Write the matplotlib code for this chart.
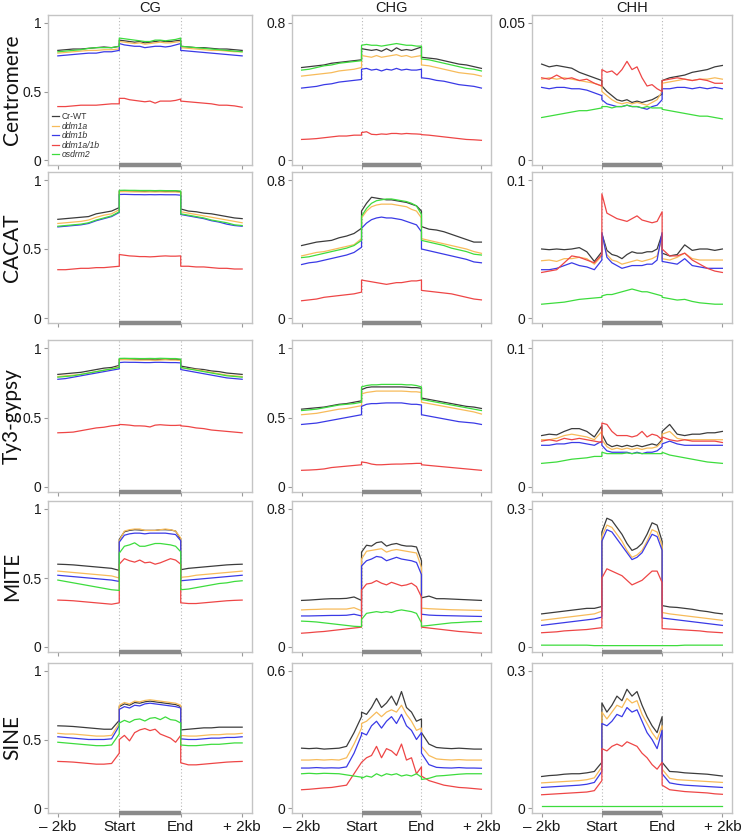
import numpy as np
import matplotlib
matplotlib.use("Agg")
import matplotlib.pyplot as plt

# ---------------- data ----------------
series_names = ["Cr-WT", "ddm1a", "ddm1b", "ddm1a/1b", "osdrm2"]
series_colors = ["#3c3c3c", "#f7bb5a", "#3a3ae6", "#ee4646", "#3ddc3d"]
contexts = ["CG", "CHG", "CHH"]
elements = ["Centromere", "CACAT", "Ty3-gypsy", "MITE", "SINE"]
xtick_labels = ["\u2013 2kb", "Start", "End", "+ 2kb"]
yticks = [
    [[0, 0.5, 1], [0, 0.8], [0, 0.05]],
    [[0, 0.5, 1], [0, 0.8], [0, 0.1]],
    [[0, 0.5, 1], [0, 0.5, 1], [0, 0.1]],
    [[0, 0.5, 1], [0, 0.8], [0, 0.3]],
    [[0, 0.5, 1], [0, 0.6], [0, 0.3]],
]

# each series: (upstream 9 pts, body 13 pts, downstream 9 pts)
cen_cg = {
    "Cr-WT": ([0.80,0.805,0.81,0.81,0.815,0.82,0.825,0.82,0.83],
              [0.875,0.87,0.865,0.86,0.865,0.855,0.86,0.865,0.87,0.865,0.865,0.87,0.875],
              [0.83,0.825,0.82,0.82,0.815,0.81,0.81,0.805,0.80]),
    "ddm1a": ([0.78,0.785,0.79,0.795,0.80,0.80,0.805,0.805,0.81],
              [0.865,0.86,0.855,0.85,0.855,0.845,0.85,0.855,0.86,0.855,0.855,0.86,0.865],
              [0.82,0.815,0.81,0.805,0.80,0.80,0.795,0.79,0.79]),
    "ddm1b": ([0.76,0.765,0.77,0.775,0.78,0.78,0.79,0.79,0.80],
              [0.85,0.84,0.835,0.83,0.83,0.82,0.825,0.83,0.83,0.825,0.83,0.84,0.85],
              [0.80,0.795,0.79,0.785,0.78,0.775,0.77,0.765,0.76]),
    "ddm1a/1b": ([0.39,0.39,0.395,0.40,0.40,0.40,0.405,0.41,0.41],
                 [0.45,0.45,0.44,0.435,0.43,0.425,0.43,0.415,0.43,0.43,0.43,0.435,0.445],
                 [0.43,0.425,0.42,0.415,0.41,0.40,0.40,0.395,0.385]),
    "osdrm2": ([0.79,0.795,0.80,0.805,0.815,0.82,0.82,0.82,0.83],
               [0.89,0.885,0.88,0.875,0.87,0.865,0.865,0.875,0.875,0.87,0.875,0.88,0.89],
               [0.83,0.825,0.82,0.815,0.81,0.805,0.80,0.795,0.79]),
}
cen_chg = {
    "Cr-WT": ([0.54,0.545,0.55,0.555,0.565,0.57,0.575,0.58,0.585],
              [0.65,0.645,0.64,0.645,0.635,0.65,0.635,0.655,0.64,0.645,0.64,0.65,0.66],
              [0.60,0.595,0.59,0.58,0.57,0.56,0.555,0.545,0.535]),
    "ddm1a": ([0.49,0.495,0.50,0.505,0.51,0.52,0.525,0.53,0.54],
              [0.61,0.605,0.60,0.61,0.60,0.605,0.61,0.615,0.605,0.61,0.60,0.605,0.61],
              [0.555,0.55,0.54,0.53,0.52,0.51,0.505,0.50,0.49]),
    "ddm1b": ([0.42,0.425,0.43,0.44,0.445,0.455,0.46,0.465,0.47],
              [0.53,0.535,0.525,0.53,0.52,0.53,0.525,0.535,0.525,0.53,0.525,0.525,0.53],
              [0.48,0.475,0.465,0.46,0.45,0.44,0.435,0.43,0.42]),
    "ddm1a/1b": ([0.12,0.122,0.125,0.13,0.135,0.14,0.14,0.145,0.145],
                 [0.16,0.165,0.15,0.148,0.152,0.15,0.155,0.155,0.152,0.155,0.153,0.152,0.15],
                 [0.148,0.145,0.14,0.135,0.13,0.125,0.12,0.118,0.115]),
    "osdrm2": ([0.525,0.53,0.54,0.55,0.555,0.565,0.57,0.575,0.58],
               [0.67,0.675,0.67,0.67,0.665,0.67,0.675,0.68,0.675,0.67,0.67,0.665,0.665],
               [0.59,0.585,0.575,0.565,0.555,0.545,0.535,0.53,0.52]),
}
cen_chh = {
    "Cr-WT": ([0.035,0.034,0.0345,0.034,0.0335,0.032,0.031,0.030,0.029],
              [0.027,0.025,0.0235,0.022,0.0215,0.022,0.021,0.0215,0.021,0.0215,0.022,0.023,0.024],
              [0.029,0.030,0.0305,0.031,0.032,0.0325,0.033,0.034,0.0345]),
    "ddm1a": ([0.0295,0.030,0.0295,0.030,0.0295,0.029,0.0285,0.028,0.027],
              [0.025,0.0235,0.022,0.021,0.0205,0.021,0.0205,0.021,0.0205,0.020,0.021,0.022,0.025],
              [0.028,0.0285,0.029,0.0295,0.029,0.0295,0.0295,0.030,0.0295]),
    "ddm1b": ([0.0265,0.026,0.0265,0.0265,0.026,0.026,0.0255,0.0245,0.0235],
              [0.022,0.0205,0.020,0.0195,0.0195,0.020,0.0195,0.0195,0.019,0.0185,0.0195,0.020,0.022],
              [0.026,0.026,0.0265,0.0265,0.026,0.0265,0.026,0.0265,0.026]),
    "ddm1a/1b": ([0.030,0.0295,0.031,0.0295,0.030,0.029,0.0295,0.028,0.027],
                 [0.033,0.032,0.0325,0.031,0.033,0.036,0.033,0.034,0.030,0.027,0.0275,0.026,0.025],
                 [0.029,0.0295,0.030,0.0295,0.029,0.0295,0.029,0.028,0.028]),
    "osdrm2": ([0.0155,0.016,0.0165,0.017,0.0175,0.018,0.018,0.0185,0.019],
               [0.0195,0.0195,0.019,0.0195,0.0195,0.020,0.0195,0.0195,0.019,0.0195,0.019,0.019,0.019],
               [0.0185,0.018,0.0175,0.017,0.0165,0.016,0.016,0.0155,0.015]),
}
cacat_cg = {
    "Cr-WT": ([0.715,0.72,0.725,0.73,0.735,0.755,0.765,0.775,0.80],
              [0.92,0.921,0.92,0.919,0.918,0.918,0.919,0.918,0.918,0.917,0.918,0.918,0.915],
              [0.79,0.775,0.77,0.76,0.755,0.745,0.735,0.725,0.72]),
    "ddm1a": ([0.685,0.69,0.695,0.70,0.71,0.73,0.745,0.755,0.785],
              [0.915,0.916,0.915,0.914,0.914,0.913,0.914,0.913,0.914,0.913,0.913,0.913,0.91],
              [0.77,0.76,0.75,0.74,0.73,0.72,0.71,0.70,0.69]),
    "ddm1b": ([0.66,0.665,0.67,0.675,0.685,0.705,0.72,0.735,0.765],
              [0.895,0.896,0.895,0.894,0.894,0.893,0.894,0.893,0.894,0.893,0.893,0.893,0.89],
              [0.75,0.74,0.73,0.72,0.705,0.695,0.68,0.67,0.665]),
    "ddm1a/1b": ([0.35,0.35,0.355,0.36,0.36,0.365,0.365,0.37,0.375],
                 [0.46,0.455,0.45,0.448,0.445,0.445,0.443,0.445,0.448,0.45,0.448,0.448,0.45],
                 [0.375,0.375,0.37,0.37,0.365,0.36,0.36,0.355,0.355]),
    "osdrm2": ([0.665,0.67,0.675,0.68,0.69,0.71,0.725,0.74,0.77],
               [0.925,0.926,0.925,0.925,0.924,0.924,0.924,0.923,0.924,0.923,0.923,0.923,0.92],
               [0.755,0.745,0.735,0.725,0.71,0.70,0.69,0.675,0.67]),
}
cacat_chg = {
    "Cr-WT": ([0.42,0.43,0.44,0.445,0.45,0.465,0.475,0.49,0.52],
              [0.62,0.665,0.70,0.695,0.69,0.685,0.685,0.68,0.675,0.67,0.66,0.65,0.62],
              [0.53,0.515,0.51,0.50,0.485,0.47,0.455,0.44,0.44]),
    "ddm1a": ([0.36,0.37,0.38,0.385,0.395,0.405,0.415,0.425,0.46],
              [0.58,0.62,0.645,0.655,0.66,0.66,0.66,0.655,0.65,0.645,0.63,0.62,0.58],
              [0.46,0.45,0.44,0.43,0.42,0.41,0.40,0.385,0.375]),
    "ddm1b": ([0.31,0.32,0.325,0.335,0.345,0.355,0.365,0.38,0.41],
              [0.52,0.55,0.57,0.58,0.585,0.58,0.58,0.575,0.57,0.56,0.55,0.54,0.50],
              [0.40,0.39,0.38,0.37,0.36,0.35,0.34,0.325,0.32]),
    "ddm1a/1b": ([0.10,0.105,0.11,0.12,0.125,0.13,0.135,0.14,0.15],
                 [0.22,0.215,0.21,0.205,0.20,0.195,0.20,0.205,0.205,0.21,0.215,0.215,0.22],
                 [0.16,0.155,0.15,0.145,0.14,0.13,0.12,0.11,0.105]),
    "osdrm2": ([0.35,0.355,0.365,0.375,0.385,0.395,0.405,0.42,0.45],
               [0.59,0.635,0.665,0.68,0.685,0.69,0.69,0.685,0.68,0.675,0.665,0.65,0.60],
               [0.45,0.44,0.43,0.42,0.405,0.395,0.385,0.37,0.365]),
}
cacat_chh = {
    "Cr-WT": ([0.050,0.0495,0.050,0.0495,0.050,0.051,0.048,0.041,0.048],
              [0.061,0.049,0.046,0.045,0.043,0.046,0.048,0.047,0.047,0.048,0.048,0.050,0.061],
              [0.047,0.045,0.046,0.053,0.049,0.050,0.050,0.049,0.050]),
    "ddm1a": ([0.0415,0.042,0.041,0.043,0.043,0.044,0.043,0.039,0.045],
              [0.060,0.046,0.042,0.041,0.039,0.040,0.041,0.042,0.041,0.042,0.043,0.045,0.058],
              [0.043,0.042,0.044,0.047,0.043,0.042,0.042,0.042,0.042]),
    "ddm1b": ([0.035,0.035,0.036,0.038,0.040,0.038,0.037,0.035,0.042],
              [0.062,0.044,0.040,0.038,0.036,0.037,0.038,0.038,0.038,0.039,0.039,0.042,0.062],
              [0.041,0.040,0.039,0.043,0.038,0.037,0.036,0.036,0.036]),
    "ddm1a/1b": ([0.033,0.034,0.035,0.040,0.045,0.044,0.042,0.040,0.046],
                 [0.090,0.076,0.074,0.072,0.071,0.070,0.072,0.074,0.071,0.070,0.069,0.070,0.077],
                 [0.050,0.045,0.045,0.047,0.042,0.039,0.036,0.034,0.033]),
    "osdrm2": ([0.010,0.0105,0.011,0.0115,0.0125,0.0135,0.014,0.0145,0.015],
               [0.016,0.017,0.017,0.018,0.019,0.020,0.021,0.020,0.019,0.019,0.018,0.017,0.016],
               [0.015,0.014,0.013,0.0135,0.012,0.011,0.0105,0.010,0.010]),
}
ty3_cg = {
    "Cr-WT": ([0.81,0.815,0.82,0.825,0.835,0.845,0.855,0.86,0.875],
              [0.92,0.921,0.92,0.918,0.918,0.918,0.918,0.915,0.918,0.92,0.918,0.918,0.915],
              [0.87,0.86,0.85,0.845,0.835,0.83,0.82,0.815,0.81]),
    "ddm1a": ([0.795,0.80,0.805,0.81,0.82,0.83,0.84,0.85,0.865],
              [0.915,0.916,0.915,0.914,0.913,0.913,0.913,0.912,0.913,0.915,0.913,0.913,0.91],
              [0.86,0.85,0.845,0.835,0.825,0.815,0.805,0.80,0.795]),
    "ddm1b": ([0.775,0.78,0.79,0.80,0.81,0.82,0.83,0.84,0.85],
              [0.895,0.898,0.897,0.897,0.896,0.895,0.895,0.897,0.897,0.896,0.895,0.895,0.893],
              [0.845,0.835,0.825,0.815,0.805,0.795,0.785,0.78,0.775]),
    "ddm1a/1b": ([0.39,0.392,0.395,0.405,0.415,0.425,0.43,0.44,0.445],
                 [0.45,0.448,0.445,0.44,0.44,0.438,0.432,0.445,0.448,0.445,0.443,0.443,0.445],
                 [0.44,0.435,0.425,0.42,0.41,0.405,0.40,0.395,0.39]),
    "osdrm2": ([0.79,0.795,0.80,0.81,0.82,0.83,0.84,0.85,0.86],
               [0.925,0.926,0.925,0.925,0.924,0.924,0.925,0.924,0.926,0.925,0.924,0.924,0.92],
               [0.86,0.85,0.84,0.83,0.82,0.81,0.80,0.795,0.79]),
}
ty3_chg = {
    "Cr-WT": ([0.56,0.565,0.57,0.575,0.585,0.595,0.60,0.61,0.62],
              [0.70,0.715,0.72,0.72,0.72,0.72,0.72,0.72,0.72,0.718,0.715,0.715,0.71],
              [0.64,0.63,0.62,0.61,0.60,0.59,0.58,0.575,0.565]),
    "ddm1a": ([0.52,0.525,0.53,0.54,0.55,0.56,0.565,0.575,0.585],
              [0.67,0.68,0.685,0.69,0.69,0.69,0.69,0.69,0.69,0.688,0.685,0.685,0.68],
              [0.61,0.60,0.59,0.58,0.57,0.56,0.55,0.54,0.525]),
    "ddm1b": ([0.45,0.455,0.46,0.47,0.48,0.49,0.50,0.51,0.52],
              [0.58,0.595,0.60,0.60,0.603,0.605,0.605,0.605,0.605,0.60,0.595,0.595,0.59],
              [0.52,0.51,0.50,0.49,0.48,0.47,0.465,0.46,0.45]),
    "ddm1a/1b": ([0.12,0.122,0.125,0.13,0.14,0.145,0.15,0.155,0.16],
                 [0.18,0.175,0.165,0.16,0.16,0.162,0.164,0.165,0.165,0.167,0.168,0.17,0.17],
                 [0.16,0.155,0.15,0.145,0.14,0.135,0.13,0.125,0.12]),
    "osdrm2": ([0.55,0.555,0.56,0.57,0.58,0.59,0.595,0.60,0.61],
               [0.72,0.73,0.735,0.735,0.738,0.738,0.738,0.738,0.738,0.735,0.735,0.73,0.72],
               [0.63,0.62,0.61,0.60,0.59,0.58,0.57,0.56,0.55]),
}
ty3_chh = {
    "Cr-WT": ([0.037,0.038,0.0375,0.040,0.042,0.042,0.040,0.036,0.044],
              [0.038,0.031,0.029,0.030,0.029,0.030,0.029,0.030,0.029,0.030,0.031,0.030,0.034],
              [0.040,0.045,0.038,0.037,0.038,0.038,0.039,0.039,0.040]),
    "ddm1a": ([0.034,0.034,0.035,0.037,0.038,0.037,0.036,0.034,0.040],
              [0.034,0.029,0.027,0.028,0.027,0.028,0.027,0.028,0.027,0.028,0.028,0.029,0.033],
              [0.038,0.040,0.035,0.034,0.034,0.034,0.034,0.034,0.034]),
    "ddm1b": ([0.030,0.030,0.031,0.031,0.032,0.032,0.031,0.030,0.033],
              [0.030,0.026,0.025,0.025,0.025,0.025,0.024,0.025,0.024,0.025,0.025,0.026,0.029],
              [0.031,0.033,0.031,0.030,0.030,0.030,0.030,0.030,0.030]),
    "ddm1a/1b": ([0.033,0.034,0.033,0.035,0.034,0.035,0.034,0.033,0.032],
                 [0.046,0.045,0.040,0.037,0.037,0.037,0.036,0.037,0.040,0.036,0.038,0.037,0.034],
                 [0.036,0.034,0.033,0.034,0.033,0.033,0.033,0.033,0.032]),
    "osdrm2": ([0.017,0.0175,0.018,0.019,0.020,0.0205,0.021,0.022,0.022],
               [0.025,0.024,0.024,0.024,0.024,0.0245,0.024,0.0245,0.024,0.024,0.024,0.024,0.024],
               [0.025,0.023,0.022,0.021,0.020,0.019,0.018,0.0175,0.017]),
}
mite_cg = {
    "Cr-WT": ([0.60,0.598,0.595,0.59,0.585,0.58,0.575,0.57,0.555],
              [0.78,0.835,0.845,0.85,0.848,0.845,0.845,0.845,0.85,0.85,0.848,0.84,0.78],
              [0.56,0.57,0.575,0.58,0.585,0.59,0.595,0.598,0.60]),
    "ddm1a": ([0.55,0.545,0.54,0.535,0.53,0.525,0.52,0.515,0.50],
              [0.77,0.84,0.85,0.855,0.855,0.845,0.845,0.845,0.85,0.855,0.85,0.84,0.79],
              [0.505,0.51,0.52,0.525,0.53,0.535,0.54,0.545,0.55]),
    "ddm1b": ([0.52,0.515,0.51,0.505,0.50,0.495,0.49,0.485,0.475],
              [0.76,0.81,0.82,0.825,0.825,0.82,0.825,0.825,0.825,0.825,0.82,0.815,0.77],
              [0.48,0.485,0.49,0.495,0.50,0.505,0.51,0.515,0.52]),
    "ddm1a/1b": ([0.34,0.338,0.335,0.33,0.325,0.32,0.315,0.31,0.32],
                 [0.60,0.64,0.625,0.615,0.63,0.61,0.615,0.60,0.61,0.625,0.64,0.63,0.60],
                 [0.32,0.315,0.315,0.32,0.325,0.33,0.335,0.338,0.34]),
    "osdrm2": ([0.485,0.475,0.465,0.455,0.445,0.435,0.425,0.415,0.41],
               [0.68,0.73,0.74,0.755,0.73,0.73,0.74,0.75,0.75,0.745,0.74,0.73,0.69],
               [0.415,0.42,0.43,0.44,0.45,0.46,0.465,0.475,0.48]),
}
mite_chg = {
    "Cr-WT": ([0.27,0.272,0.275,0.278,0.28,0.28,0.282,0.29,0.27],
              [0.55,0.59,0.585,0.605,0.61,0.585,0.595,0.60,0.59,0.585,0.585,0.58,0.50],
              [0.285,0.295,0.28,0.28,0.278,0.276,0.274,0.272,0.27]),
    "ddm1a": ([0.215,0.217,0.218,0.22,0.22,0.22,0.22,0.228,0.21],
              [0.51,0.555,0.56,0.565,0.57,0.55,0.56,0.565,0.56,0.555,0.55,0.545,0.46],
              [0.225,0.222,0.22,0.218,0.216,0.215,0.214,0.213,0.212]),
    "ddm1b": ([0.18,0.18,0.181,0.182,0.183,0.183,0.184,0.19,0.18],
              [0.47,0.50,0.51,0.525,0.52,0.50,0.51,0.52,0.51,0.505,0.50,0.49,0.42],
              [0.19,0.185,0.183,0.182,0.181,0.18,0.179,0.178,0.177]),
    "ddm1a/1b": ([0.08,0.083,0.087,0.09,0.095,0.10,0.105,0.11,0.115],
                 [0.33,0.365,0.37,0.385,0.37,0.36,0.375,0.365,0.355,0.36,0.37,0.35,0.29],
                 [0.115,0.11,0.105,0.10,0.095,0.09,0.087,0.083,0.08]),
    "osdrm2": ([0.15,0.148,0.145,0.14,0.135,0.13,0.125,0.12,0.118],
               [0.16,0.195,0.20,0.205,0.20,0.205,0.20,0.21,0.215,0.21,0.205,0.195,0.14],
               [0.12,0.125,0.13,0.135,0.14,0.142,0.145,0.147,0.148]),
}
mite_chh = {
    "Cr-WT": ([0.072,0.074,0.076,0.078,0.080,0.082,0.084,0.084,0.088],
              [0.25,0.28,0.275,0.26,0.245,0.225,0.21,0.215,0.225,0.245,0.27,0.265,0.23],
              [0.09,0.087,0.086,0.084,0.082,0.079,0.077,0.074,0.072]),
    "ddm1a": ([0.058,0.06,0.062,0.064,0.066,0.068,0.07,0.072,0.078],
              [0.24,0.265,0.26,0.245,0.23,0.21,0.195,0.20,0.21,0.23,0.255,0.25,0.22],
              [0.075,0.072,0.07,0.068,0.066,0.064,0.062,0.06,0.058]),
    "ddm1b": ([0.047,0.049,0.051,0.053,0.055,0.057,0.059,0.061,0.065],
              [0.23,0.255,0.25,0.235,0.22,0.205,0.19,0.195,0.205,0.225,0.245,0.24,0.21],
              [0.063,0.061,0.059,0.057,0.055,0.053,0.051,0.049,0.047]),
    "ddm1a/1b": ([0.031,0.032,0.033,0.035,0.036,0.037,0.038,0.040,0.042],
                 [0.15,0.17,0.165,0.16,0.155,0.145,0.135,0.14,0.145,0.155,0.165,0.165,0.14],
                 [0.04,0.039,0.038,0.037,0.036,0.035,0.033,0.032,0.031]),
    "osdrm2": ([0.004,0.004,0.004,0.004,0.004,0.004,0.004,0.003,0.003],
               [0.003,0.003,0.003,0.003,0.003,0.003,0.003,0.003,0.003,0.003,0.003,0.003,0.003],
               [0.003,0.003,0.003,0.004,0.004,0.004,0.004,0.004,0.004]),
}
sine_cg = {
    "Cr-WT": ([0.60,0.598,0.595,0.59,0.585,0.58,0.575,0.575,0.64],
              [0.74,0.76,0.75,0.77,0.765,0.775,0.78,0.775,0.77,0.765,0.76,0.755,0.74],
              [0.57,0.575,0.58,0.585,0.585,0.59,0.59,0.59,0.59]),
    "ddm1a": ([0.545,0.54,0.54,0.535,0.53,0.525,0.525,0.53,0.62],
              [0.75,0.77,0.76,0.78,0.775,0.785,0.79,0.785,0.78,0.775,0.77,0.765,0.75],
              [0.53,0.525,0.525,0.53,0.535,0.535,0.54,0.54,0.545]),
    "ddm1b": ([0.52,0.515,0.51,0.505,0.50,0.50,0.50,0.505,0.60],
              [0.72,0.74,0.73,0.75,0.745,0.76,0.765,0.76,0.755,0.75,0.745,0.74,0.73],
              [0.505,0.50,0.50,0.505,0.51,0.51,0.515,0.515,0.52]),
    "ddm1a/1b": ([0.34,0.338,0.335,0.33,0.325,0.32,0.32,0.325,0.40],
                 [0.50,0.53,0.49,0.55,0.57,0.58,0.565,0.575,0.54,0.525,0.51,0.48,0.53],
                 [0.33,0.315,0.315,0.32,0.325,0.33,0.335,0.338,0.34]),
    "osdrm2": ([0.48,0.475,0.47,0.465,0.46,0.455,0.455,0.46,0.54],
               [0.62,0.64,0.625,0.645,0.65,0.635,0.655,0.66,0.645,0.665,0.645,0.64,0.62],
               [0.46,0.455,0.455,0.46,0.465,0.465,0.47,0.475,0.475]),
}
sine_chg = {
    "Cr-WT": ([0.262,0.26,0.262,0.258,0.26,0.262,0.27,0.33,0.40],
              [0.42,0.41,0.44,0.48,0.44,0.46,0.49,0.45,0.51,0.44,0.42,0.38,0.39],
              [0.33,0.28,0.265,0.262,0.26,0.262,0.26,0.258,0.258]),
    "ddm1a": ([0.21,0.21,0.212,0.21,0.212,0.21,0.22,0.28,0.35],
              [0.37,0.38,0.40,0.42,0.40,0.42,0.43,0.42,0.45,0.41,0.38,0.34,0.35],
              [0.27,0.23,0.215,0.212,0.21,0.212,0.21,0.21,0.21]),
    "ddm1b": ([0.175,0.175,0.177,0.175,0.176,0.175,0.18,0.24,0.32],
              [0.33,0.32,0.36,0.38,0.35,0.38,0.40,0.37,0.41,0.36,0.34,0.30,0.33],
              [0.24,0.19,0.178,0.176,0.175,0.177,0.175,0.175,0.174]),
    "ddm1a/1b": ([0.08,0.082,0.085,0.088,0.09,0.095,0.10,0.15,0.20],
                 [0.20,0.22,0.23,0.27,0.22,0.26,0.25,0.23,0.28,0.21,0.22,0.15,0.18],
                 [0.14,0.12,0.11,0.10,0.095,0.09,0.088,0.085,0.082]),
    "osdrm2": ([0.15,0.152,0.15,0.152,0.151,0.15,0.145,0.14,0.135],
               [0.13,0.14,0.135,0.15,0.14,0.15,0.145,0.15,0.14,0.145,0.14,0.15,0.135],
               [0.125,0.13,0.14,0.142,0.145,0.148,0.15,0.15,0.15]),
}
sine_chh = {
    "Cr-WT": ([0.069,0.071,0.072,0.074,0.075,0.075,0.077,0.08,0.10],
              [0.23,0.21,0.225,0.245,0.235,0.26,0.245,0.255,0.225,0.20,0.18,0.165,0.20],
              [0.10,0.08,0.079,0.077,0.076,0.075,0.074,0.072,0.07]),
    "ddm1a": ([0.055,0.056,0.057,0.058,0.059,0.06,0.062,0.066,0.09],
              [0.21,0.195,0.21,0.225,0.22,0.24,0.23,0.235,0.205,0.185,0.165,0.15,0.18],
              [0.085,0.065,0.062,0.061,0.06,0.059,0.058,0.057,0.056]),
    "ddm1b": ([0.045,0.046,0.047,0.048,0.049,0.05,0.052,0.056,0.08],
              [0.185,0.18,0.19,0.205,0.20,0.22,0.21,0.215,0.19,0.165,0.15,0.13,0.17],
              [0.075,0.055,0.052,0.05,0.049,0.048,0.047,0.046,0.045]),
    "ddm1a/1b": ([0.029,0.03,0.031,0.032,0.033,0.034,0.035,0.038,0.06],
                 [0.13,0.125,0.135,0.14,0.135,0.145,0.14,0.135,0.12,0.11,0.095,0.085,0.10],
                 [0.05,0.04,0.038,0.036,0.035,0.034,0.033,0.031,0.03]),
    "osdrm2": ([0.004,0.004,0.004,0.004,0.004,0.004,0.004,0.004,0.004],
               [0.004,0.004,0.004,0.004,0.004,0.004,0.004,0.004,0.004,0.004,0.004,0.004,0.004],
               [0.004,0.004,0.004,0.004,0.004,0.004,0.004,0.004,0.004]),
}
panels = [
    [cen_cg, cen_chg, cen_chh],
    [cacat_cg, cacat_chg, cacat_chh],
    [ty3_cg, ty3_chg, ty3_chh],
    [mite_cg, mite_chg, mite_chh],
    [sine_cg, sine_chg, sine_chh],
]

# ---------------- layout ----------------
W, H = 747, 835
fig = plt.figure(figsize=(W / 100, H / 100), dpi=100)
plt.rcParams["font.family"] = ["Liberation Sans", "DejaVu Sans"]

col_left = [48, 292, 532]
col_w = [204, 199, 200]
row_top = [15, 172, 340, 501, 663]
row_h = [150, 151, 152, 151, 150]

x_up = np.linspace(0, 1, 9)
x_body = np.linspace(1, 2, 13)
x_down = np.linspace(2, 3, 9)
x_all = np.concatenate([x_up, x_body, x_down])

spine_col = "#c4c4c4"
for r in range(5):
    for c in range(3):
        ax = fig.add_axes([col_left[c] / W, 1 - (row_top[r] + row_h[r]) / H,
                           col_w[c] / W, row_h[r] / H])
        top = max(yticks[r][c])
        span = row_h[r] - 13
        ax.set_ylim(-5 / span * top, top * (1 + 8 / span))
        ax.set_xlim(-0.16, 3.16)
        for s in ax.spines.values():
            s.set_color(spine_col)
            s.set_linewidth(1.0)
        ax.axvline(1, color="#b8b8b8", lw=0.8, ls=(0, (1, 2)), zorder=1)
        ax.axvline(2, color="#b8b8b8", lw=0.8, ls=(0, (1, 2)), zorder=1)
        data = panels[r][c]
        for name, col in zip(series_names, series_colors):
            up, body, down = data[name]
            y = np.concatenate([up, body, down])
            ax.plot(x_all, y, color=col, lw=0.9, label=name, zorder=3)
        ax.plot([1, 2], [0, 0], transform=ax.get_xaxis_transform(), color="#8a8a8a",
                lw=3.2, solid_capstyle="butt", clip_on=False, zorder=5)
        ax.set_yticks(yticks[r][c])
        ax.set_yticklabels(["%g" % v for v in yticks[r][c]])
        ax.set_xticks([0, 1, 2, 3])
        if r == 4:
            ax.set_xticklabels(xtick_labels)
        else:
            ax.set_xticklabels([])
        ax.tick_params(axis="both", direction="out", length=3, width=0.8,
                       color="#9a9a9a", labelsize=10, labelcolor="#1a1a1a", pad=1.5)
        ax.tick_params(axis="x", labelsize=11, pad=2)
        if r == 0:
            ax.set_title(contexts[c], fontsize=10.5, pad=0.5, color="#1a1a1a")
        if c == 0:
            fig.text(12 / W, 1 - (row_top[r] + row_h[r] / 2) / H, elements[r],
                     rotation=90, ha="center", va="center", fontsize=15,
                     family=["Lato", "DejaVu Sans"], color="#111111")
        if r == 0 and c == 0:
            leg = ax.legend(loc="lower left", bbox_to_anchor=(-0.01, 0.0), frameon=False,
                            fontsize=6.2, handlelength=0.8, handletextpad=0.35,
                            labelspacing=0.05, borderpad=0.2)
            for i, t in enumerate(leg.get_texts()):
                t.set_color("#333333")
                if i > 0:
                    t.set_style("italic")

fig.savefig("out.png", dpi=100)
